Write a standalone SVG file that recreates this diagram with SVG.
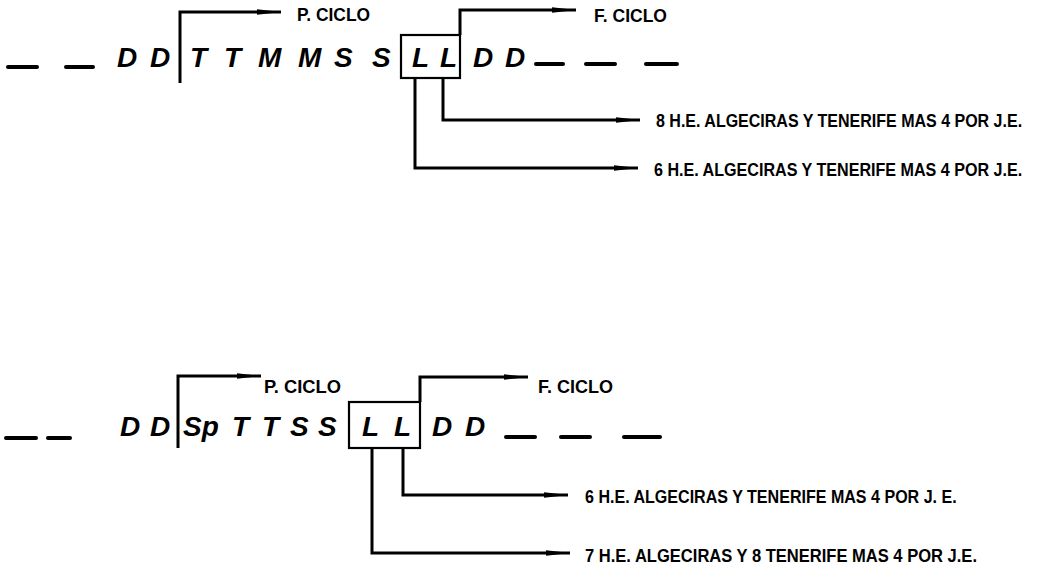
<svg xmlns="http://www.w3.org/2000/svg" width="1051" height="570" viewBox="0 0 1051 570">
<defs>
<marker id="arr" viewBox="0 0 24 8" refX="24" refY="4" markerWidth="24" markerHeight="8" markerUnits="userSpaceOnUse" orient="auto">
<path d="M0,1.2 L24,4 L0,6.8 Z" fill="#000"/>
</marker>
</defs>
<style>
.big{font-family:"Liberation Sans",Arial,sans-serif;font-weight:bold;font-style:italic;fill:#000}
.t1{font-size:28px}
.t2{font-size:28px}
.sm{font-family:"Liberation Sans",Arial,sans-serif;font-weight:bold;font-size:19px;fill:#000}
.ln{stroke:#000;stroke-width:3;fill:none}
.ar{stroke:#000;stroke-width:3;fill:none;marker-end:url(#arr)}
.box{stroke:#000;stroke-width:2.2;fill:none}
.dash{stroke:#000;stroke-width:4;stroke-linecap:round}
</style>
<rect width="1051" height="570" fill="#fff"/>

<g id="seq1">
<line class="dash" x1="8" y1="67" x2="37" y2="67"/>
<line class="dash" x1="66" y1="67" x2="93" y2="67"/>
<text class="big t1" x="117" y="67">D</text>
<text class="big t1" x="150" y="67">D</text>
<text class="big t1" x="190" y="67">T</text>
<text class="big t1" x="224" y="67">T</text>
<text class="big t1" x="258" y="67">M</text>
<text class="big t1" x="298" y="67">M</text>
<text class="big t1" x="334" y="67">S</text>
<text class="big t1" x="372" y="67">S</text>
<text class="big t1" x="412" y="67">L</text>
<text class="big t1" x="440" y="67">L</text>
<text class="big t1" x="473" y="67">D</text>
<text class="big t1" x="505" y="67">D</text>
<line class="dash" x1="536" y1="64" x2="563" y2="64"/>
<line class="dash" x1="586" y1="64" x2="615" y2="64"/>
<line class="dash" x1="646" y1="64" x2="677" y2="64"/>
</g>
<g id="box1"><rect class="box" x="401" y="35" width="59" height="43"/></g>
<g id="pciclo1"><text class="sm" x="297" y="21" textLength="73" lengthAdjust="spacingAndGlyphs">P. CICLO</text></g>
<g id="fciclo1"><text class="sm" x="594" y="22" textLength="73" lengthAdjust="spacingAndGlyphs">F. CICLO</text></g>
<g id="note1a"><text class="sm" transform="translate(656,127) scale(0.7,1)" textLength="523" lengthAdjust="spacingAndGlyphs">8 H.E. ALGECIRAS Y TENERIFE MAS 4 POR J.E.</text></g>
<g id="note1b"><text class="sm" transform="translate(654,176) scale(0.7,1)" textLength="526" lengthAdjust="spacingAndGlyphs">6 H.E. ALGECIRAS Y TENERIFE MAS 4 POR J.E.</text></g>

<g id="seq2">
<line class="dash" x1="6" y1="438" x2="36" y2="438"/>
<line class="dash" x1="48" y1="438" x2="70" y2="438"/>
<text class="big t2" x="120" y="436">D</text>
<text class="big t2" x="150" y="436">D</text>
<text class="big t2" x="183" y="436">Sp</text>
<text class="big t2" x="232" y="436">T</text>
<text class="big t2" x="262" y="436">T</text>
<text class="big t2" x="290" y="436">S</text>
<text class="big t2" x="318" y="436">S</text>
<text class="big t2" x="362" y="436">L</text>
<text class="big t2" x="394" y="436">L</text>
<text class="big t2" x="432" y="436">D</text>
<text class="big t2" x="465" y="436">D</text>
<line class="dash" x1="506" y1="437" x2="535" y2="437"/>
<line class="dash" x1="561" y1="437" x2="590" y2="437"/>
<line class="dash" x1="624" y1="437" x2="660" y2="437"/>
</g>
<g id="box2"><rect class="box" x="349" y="402" width="71" height="46"/></g>
<g id="pciclo2"><text class="sm" x="264" y="393" textLength="77" lengthAdjust="spacingAndGlyphs">P. CICLO</text></g>
<g id="fciclo2"><text class="sm" x="538" y="393" textLength="75" lengthAdjust="spacingAndGlyphs">F. CICLO</text></g>
<g id="note2a"><text class="sm" transform="translate(585,503) scale(0.7,1)" textLength="531" lengthAdjust="spacingAndGlyphs">6 H.E. ALGECIRAS Y TENERIFE MAS 4 POR J. E.</text></g>
<g id="note2b"><text class="sm" transform="translate(585,562) scale(0.7,1)" textLength="560" lengthAdjust="spacingAndGlyphs">7 H.E. ALGECIRAS Y 8 TENERIFE  MAS 4 POR J.E.</text></g>

<g id="connectors">
<path class="ar" d="M180,83 L180,12 L281,12"/>
<path class="ar" d="M460,35 L460,10 L576,10"/>
<path class="ar" d="M443,78 L443,120 L640,120"/>
<path class="ar" d="M415,78 L415,168 L638,168"/>
<path class="ar" d="M178,448 L178,376 L261,376"/>
<path class="ar" d="M420,402 L420,377 L528,377"/>
<path class="ar" d="M403,448 L403,495 L568,495"/>
<path class="ar" d="M372,448 L372,553 L570,553"/>
</g>
</svg>
